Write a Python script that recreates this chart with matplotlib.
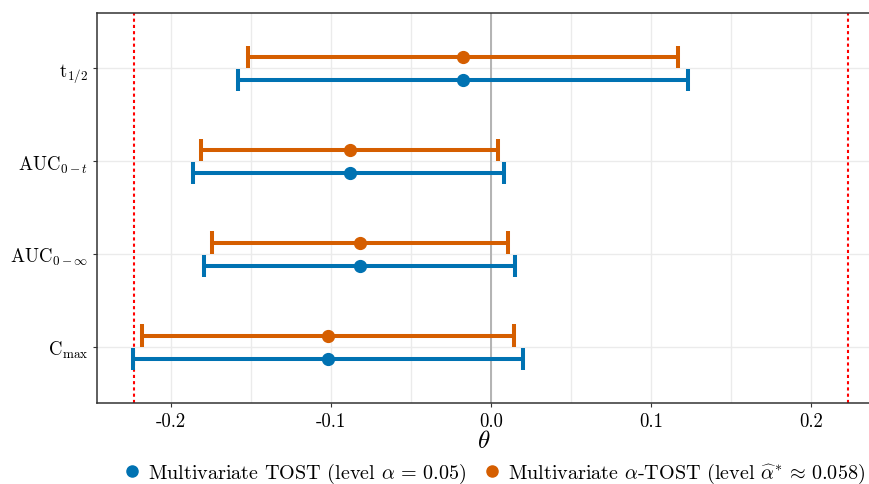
import matplotlib
matplotlib.use("Agg")
import matplotlib.pyplot as plt
import numpy as np
from matplotlib.lines import Line2D
from matplotlib.ticker import FixedLocator

plt.rcParams["font.family"] = ["cmr10", "DejaVu Serif"]
plt.rcParams["mathtext.fontset"] = "cm"
plt.rcParams["axes.unicode_minus"] = False
plt.rcParams["axes.formatter.use_mathtext"] = True

# parameters, bottom to top
params = [r"$\mathrm{C}_{\mathrm{max}}$", r"$\mathrm{AUC}_{0-\infty}$",
          r"$\mathrm{AUC}_{0-t}$", r"$\mathrm{t}_{1/2}$"]

estimate = [-0.102, -0.0822, -0.0884, -0.0178]

tost_lower = [-0.2239, -0.1797, -0.186, -0.1584]
tost_upper = [0.0199, 0.0147, 0.0084, 0.1232]

atost_lower = [-0.2183, -0.1747, -0.1814, -0.1516]
atost_upper = [0.01425, 0.0103, 0.0043, 0.1167]

margin = np.log(1.25)

BLUE = "#0072B2"
ORANGE = "#D55E00"


def draw_interval(ax, y, lo, hi, mid, color):
    ax.plot([lo, hi], [y, y], color=color, lw=2.9, solid_capstyle="butt", zorder=3)
    for xc in (lo, hi):
        ax.plot([xc, xc], [y - 0.12, y + 0.12], color=color, lw=2.9,
                solid_capstyle="butt", zorder=3)
    ax.plot(mid, y, "o", color=color, ms=8.5, zorder=4)


fig = plt.figure(figsize=(8.7, 4.85), dpi=100)
ax = fig.add_axes([0.112, 0.167, 0.8875, 0.805])

ypos = np.arange(1, len(params) + 1)
dodge = 0.125
for i, y in enumerate(ypos):
    draw_interval(ax, y - dodge, tost_lower[i], tost_upper[i], estimate[i], BLUE)
    draw_interval(ax, y + dodge, atost_lower[i], atost_upper[i], estimate[i], ORANGE)

ax.axvline(0, color="#b3b3b3", lw=1.4, zorder=2)
ax.axvline(-margin, color="red", lw=1.5, ls=(0, (1.5, 1.5)), zorder=2)
ax.axvline(margin, color="red", lw=1.5, ls=(0, (1.5, 1.5)), zorder=2)

ax.set_xlim(-0.246, 0.2366)
ax.set_ylim(0.4, 4.6)

xt = [-0.2, -0.1, 0.0, 0.1, 0.2]
ax.set_xticks(xt)
ax.set_xticklabels(["-0.2", "-0.1", "0.0", "0.1", "0.2"])
ax.xaxis.set_minor_locator(FixedLocator([-0.15, -0.05, 0.05, 0.15]))
ax.set_yticks(ypos)
ax.set_yticklabels(params)

ax.grid(True, which="major", color="#ebebeb", lw=1.0, zorder=0)
ax.grid(True, which="minor", axis="x", color="#ebebeb", lw=1.0, zorder=0)
ax.set_axisbelow(True)

ax.tick_params(axis="both", which="major", length=3, color="#333333",
               labelsize=13.5, labelcolor="black")
ax.tick_params(axis="both", which="minor", length=0)
for side in ("left", "bottom", "top"):
    ax.spines[side].set_color("#333333")
    ax.spines[side].set_linewidth(1.1)
ax.spines["right"].set_visible(False)

ax.set_xlabel(r"$\theta$", fontsize=18, labelpad=0)

handles = [
    Line2D([], [], marker="o", ls="none", color=BLUE, ms=8),
    Line2D([], [], marker="o", ls="none", color=ORANGE, ms=8),
]
labels = [
    r"Multivariate TOST (level $\alpha\,=\,0.05$)",
    r"Multivariate $\alpha$-TOST (level $\widehat{\alpha}^{*}\,\approx\,0.058$)",
]
fig.legend(handles, labels, loc="center", bbox_to_anchor=(0.567, 0.022),
           ncol=2, frameon=False, fontsize=14.5, handletextpad=0.3,
           columnspacing=0.8, handlelength=1.0)

fig.savefig("out.png", dpi=100)
